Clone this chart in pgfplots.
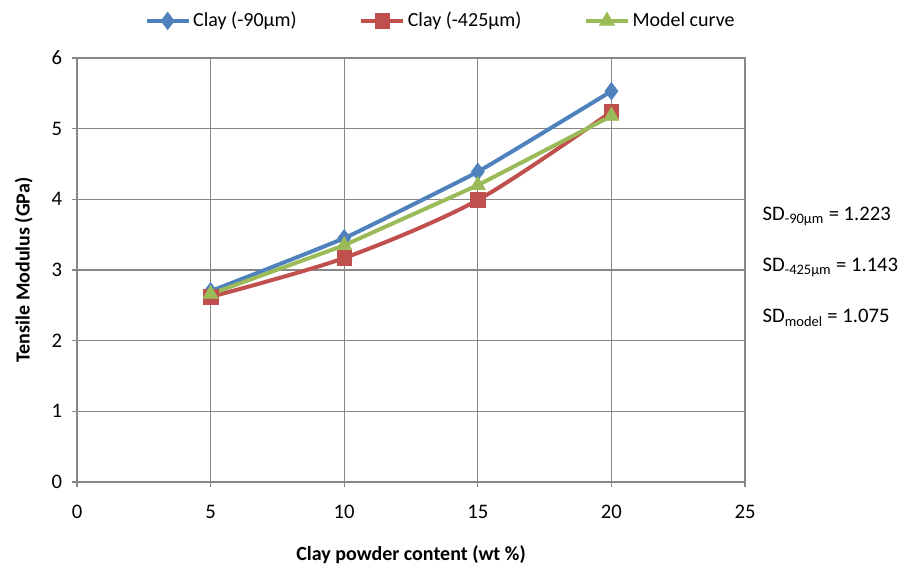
\documentclass[border=0pt]{standalone}
\usepackage{pgfplots}
\pgfplotsset{compat=1.18}
\usepackage{fontspec}
\setmainfont{Carlito}

\definecolor{cblue}{HTML}{4F81BD}
\definecolor{cred}{HTML}{C0504D}
\definecolor{cgreen}{HTML}{9BBB59}
\definecolor{cgrid}{HTML}{878787}

\begin{document}
\begin{tikzpicture}
\fontsize{15}{18}\selectfont
\begin{axis}[
  name=ax,
  scale only axis,
  width=501pt, height=318pt,
  xmin=0, xmax=25, ymin=0, ymax=6,
  xtick={0,5,...,25}, ytick={0,1,...,6},
  /pgf/number format/assume math mode=true,
  ticklabel style={font=\fontsize{15.5}{18}\selectfont},
  xticklabel style={yshift=-8pt},
  yticklabel style={xshift=-2pt},
  grid=major,
  grid style={cgrid, line width=0.9pt},
  axis line style={cgrid, line width=0.9pt},
  tick style={cgrid, line width=0.9pt},
  tick align=outside,
  major tick length=4pt,
  xtick pos=bottom, ytick pos=left,
  xlabel={\textbf{Clay powder content (wt \%)}},
  ylabel={\textbf{Tensile Modulus (GPa)}},
  xlabel style={font=\fontsize{15}{18}\selectfont, yshift=-10pt},
  ylabel style={font=\fontsize{15}{18}\selectfont, yshift=4pt},
  clip=false,
  legend columns=3,
  legend style={at={(0.545,1)}, anchor=south, yshift=17pt, draw=none,
    font=\fontsize{15}{18}\selectfont,
    /tikz/every even column/.append style={column sep=45pt}},
  legend image code/.code={
    \draw[#1, mark repeat=2, mark phase=2] plot coordinates {(0cm,0cm) (0.55cm,0cm) (1.1cm,0cm)};
  },
]
\addplot[cblue, line width=3pt, smooth, tension=0.2, mark=diamond*, mark size=6.5pt,
  mark options={solid, fill=cblue, line width=0.5pt}]
  coordinates {(5,2.70) (10,3.45) (15,4.39) (20,5.53)};
\addlegendentry{Clay (-90µm)}
\addplot[cred, line width=3pt, smooth, tension=0.5, mark=square*, mark size=5.5pt,
  mark options={solid, fill=cred, line width=0.5pt}]
  coordinates {(5,2.62) (10,3.17) (15,3.99) (20,5.24)};
\addlegendentry{Clay (-425µm)}
\addplot[cgreen, line width=3pt, mark=triangle*, mark size=6.5pt,
  mark options={solid, fill=cgreen, line width=0.5pt}]
  coordinates {(5,2.66) (10,3.35) (15,4.20) (20,5.18)};
\addlegendentry{Model curve}

\node[anchor=west, font=\fontsize{15.5}{18}\selectfont] at (axis cs:25.4,3.76) {SD\textsubscript{-90µm} = 1.223};
\node[anchor=west, font=\fontsize{15.5}{18}\selectfont] at (axis cs:25.4,3.03) {SD\textsubscript{-425µm} = 1.143};
\node[anchor=west, font=\fontsize{15.5}{18}\selectfont] at (axis cs:25.4,2.32) {SD\textsubscript{model} = 1.075};
\end{axis}
\pgfresetboundingbox
\path[use as bounding box] ([shift={(-57.75pt,-63pt)}]ax.south west) rectangle ([shift={(114.75pt,43.5pt)}]ax.north east);
\end{tikzpicture}
\end{document}
